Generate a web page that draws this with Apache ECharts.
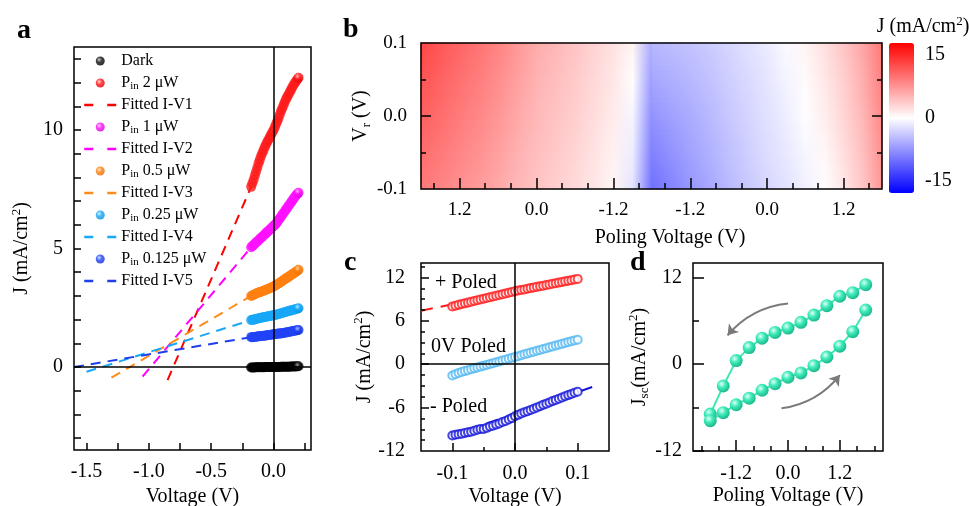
<!DOCTYPE html>
<html>
<head>
<meta charset="utf-8">
<script src="https://cdn.jsdelivr.net/npm/echarts@6.0.0/dist/echarts.min.js"></script>
<style>
  html, body { margin: 0; padding: 0; background: #fff; }
  #chart { width: 969px; height: 506px; }
</style>
</head>
<body>
<div id="chart"></div>
<script>
// ---------- panel a: J-V under illumination ----------
const voltageA = [-0.18, -0.17, -0.16, -0.15, -0.14, -0.13, -0.12, -0.11, -0.1, -0.09,
  -0.08, -0.07, -0.06, -0.05, -0.04, -0.03, -0.02, -0.01, 0,
  0.01, 0.02, 0.03, 0.04, 0.05, 0.06, 0.07, 0.08, 0.09, 0.1,
  0.11, 0.12, 0.13, 0.14, 0.15, 0.16, 0.17, 0.18, 0.19, 0.2];
const darkJ = [-0.02, -0.02, -0.02, -0.02, -0.01, -0.01, -0.01, -0.01, -0.01, -0.01,
  -0.01, -0.01, 0, 0, 0, 0, 0, 0, 0,
  0, 0, 0, 0, 0, 0.01, 0.01, 0.01, 0.01, 0.01,
  0.01, 0.01, 0.01, 0.02, 0.02, 0.02, 0.02, 0.02, 0.03, 0.03];
const pin2J = [7.6, 7.75, 7.9, 8.08, 8.25, 8.42, 8.6, 8.75, 8.9, 9.03,
  9.15, 9.28, 9.4, 9.5, 9.6, 9.7, 9.8, 9.9, 10.0,
  10.12, 10.25, 10.37, 10.5, 10.65, 10.8, 10.92, 11.05, 11.18, 11.3,
  11.4, 11.5, 11.6, 11.7, 11.8, 11.9, 11.98, 12.05, 12.13, 12.2];
const pin1J = [5.05, 5.1, 5.15, 5.2, 5.25, 5.3, 5.35, 5.4, 5.45, 5.5,
  5.55, 5.6, 5.65, 5.7, 5.75, 5.8, 5.85, 5.9, 5.95,
  6.0, 6.05, 6.12, 6.2, 6.27, 6.35, 6.42, 6.5, 6.57, 6.65,
  6.72, 6.8, 6.87, 6.95, 7.02, 7.1, 7.17, 7.25, 7.3, 7.35];
const pin05J = [3.0, 3.02, 3.05, 3.07, 3.1, 3.12, 3.14, 3.16, 3.18, 3.2,
  3.22, 3.24, 3.26, 3.28, 3.3, 3.32, 3.35, 3.37, 3.4,
  3.43, 3.46, 3.49, 3.52, 3.56, 3.6, 3.63, 3.67, 3.7, 3.74,
  3.77, 3.81, 3.84, 3.88, 3.91, 3.95, 3.98, 4.02, 4.06, 4.1];
const pin025J = [1.98, 1.99, 2.0, 2.01, 2.03, 2.04, 2.06, 2.07, 2.08, 2.09,
  2.1, 2.11, 2.12, 2.13, 2.14, 2.15, 2.16, 2.17, 2.19,
  2.2, 2.21, 2.22, 2.24, 2.25, 2.27, 2.28, 2.3, 2.31, 2.33,
  2.34, 2.36, 2.37, 2.39, 2.4, 2.42, 2.43, 2.45, 2.46, 2.48];
const pin0125J = [1.26, 1.26, 1.27, 1.27, 1.28, 1.29, 1.3, 1.3, 1.31, 1.31,
  1.32, 1.32, 1.33, 1.34, 1.35, 1.35, 1.36, 1.37, 1.38,
  1.38, 1.39, 1.4, 1.41, 1.41, 1.42, 1.43, 1.44, 1.45, 1.46,
  1.47, 1.48, 1.49, 1.5, 1.51, 1.52, 1.53, 1.54, 1.55, 1.56];
const powers = ['2', '1', '0.5', '0.25', '0.125'];
// fitted I-V lines: start and end points
const fitStartV = [-0.85, -1.05, -1.3, -1.5, -1.6];
const fitStartJ = [-0.55, -0.4, -0.45, -0.2, 0.0];
const fitEndV = [-0.18, -0.18, -0.18, -0.18, -0.18];
const fitEndJ = [7.6, 5.05, 3.0, 1.98, 1.26];

// ---------- panel b: J map (rows = Vr, columns = poling voltage) ----------
const vrRows = [0.1, 0.05, 0, -0.05, -0.1];
const polingDown = [1.8, 1.5, 1.2, 0.9, 0.6, 0.3, 0, -0.3, -0.6, -0.9, -1.2, -1.5, -1.8];
const polingUp = [-1.8, -1.5, -1.2, -0.9, -0.6, -0.3, 0, 0.3, 0.6, 0.9, 1.2, 1.5, 1.8];
const mapDown = [
  [12.9, 11.8, 10.8, 9.8, 8.7, 7.3, 5.9, 5.0, 4.1, 3.1, 2.1, 0.8, -5.9],
  [12.0, 11.0, 10.0, 9.1, 8.0, 6.7, 5.4, 4.6, 3.7, 2.7, 1.7, 0.1, -7.0],
  [11.2, 10.2, 9.3, 8.4, 7.4, 6.1, 5.0, 4.2, 3.4, 2.4, 1.4, -0.7, -8.0],
  [10.3, 9.4, 8.5, 7.7, 6.7, 5.5, 4.6, 3.8, 3.0, 2.0, 1.0, -1.3, -9.0],
  [9.4, 8.6, 7.8, 7.0, 6.1, 5.0, 4.2, 3.4, 2.6, 1.7, 0.7, -1.9, -10.0]
];
const mapUp = [
  [-5.0, -4.6, -4.2, -3.6, -2.9, -2.1, -1.4, -0.3, 0.8, 2.2, 4.0, 6.3, 9.4],
  [-6.2, -5.6, -5.0, -4.3, -3.4, -2.6, -1.8, -0.8, 0.3, 1.7, 3.4, 5.7, 8.8],
  [-7.5, -6.6, -5.8, -4.9, -3.9, -3.0, -2.1, -1.2, -0.1, 1.2, 2.9, 5.1, 8.3],
  [-8.7, -7.6, -6.5, -5.5, -4.4, -3.4, -2.4, -1.6, -0.6, 0.6, 2.3, 4.5, 7.8],
  [-10.0, -8.6, -7.3, -6.1, -4.9, -3.8, -2.8, -2.0, -1.0, 0.1, 1.7, 4.0, 7.3]
];
const colorLimit = 17.8;

// ---------- panel c: J-V after poling ----------
const voltageC = [-0.1, -0.095, -0.09, -0.085, -0.08, -0.075, -0.07, -0.065, -0.06, -0.055, -0.05,
  -0.045, -0.04, -0.035, -0.03, -0.025, -0.02, -0.015, -0.01, -0.005, 0,
  0.005, 0.01, 0.015, 0.02, 0.025, 0.03, 0.035, 0.04, 0.045, 0.05,
  0.055, 0.06, 0.065, 0.07, 0.075, 0.08, 0.085, 0.09, 0.095, 0.1];
const posPoledJ = [8.00, 8.10, 8.21, 8.32, 8.42, 8.52, 8.63, 8.74, 8.84, 8.95, 9.05,
  9.15, 9.26, 9.36, 9.47, 9.58, 9.68, 9.78, 9.89, 10.00, 10.10,
  10.19, 10.27, 10.35, 10.44, 10.53, 10.61, 10.70, 10.78, 10.87, 10.95,
  11.04, 11.12, 11.21, 11.29, 11.38, 11.46, 11.55, 11.63, 11.72, 11.80];
const zeroPoledJ = [-1.55, -1.38, -1.22, -1.08, -0.95, -0.82, -0.70, -0.57, -0.45, -0.33, -0.21,
  -0.09, 0.03, 0.15, 0.27, 0.39, 0.51, 0.63, 0.75, 0.88, 1.00,
  1.12, 1.24, 1.37, 1.49, 1.61, 1.74, 1.86, 1.98, 2.10, 2.22,
  2.34, 2.46, 2.58, 2.70, 2.82, 2.94, 3.06, 3.17, 3.28, 3.38];
const negPoledJ = [-9.85, -9.75, -9.68, -9.60, -9.50, -9.42, -9.33, -9.20, -9.05, -8.95, -8.95,
  -8.80, -8.62, -8.50, -8.35, -8.20, -8.00, -7.85, -7.65, -7.45, -7.20,
  -7.00, -6.82, -6.65, -6.50, -6.32, -6.15, -5.97, -5.80, -5.62, -5.45,
  -5.28, -5.10, -4.93, -4.77, -4.60, -4.43, -4.27, -4.10, -3.95, -3.80];
const fitPosV = [-0.15, 0.1];
const fitPosJ = [7.4, 11.8];
const fitNegV = [-0.1, 0.135];
const fitNegJ = [-9.85, -2.8];

// ---------- panel d: Jsc vs poling voltage loop ----------
const polingLoop = [1.8, 1.5, 1.2, 0.9, 0.6, 0.3, 0, -0.3, -0.6, -0.9, -1.2, -1.5, -1.8,
  -1.8, -1.5, -1.2, -0.9, -0.6, -0.3, 0, 0.3, 0.6, 0.9, 1.2, 1.5, 1.8];
const jscLoop = [11.0, 9.9, 9.4, 8.1, 6.8, 5.8, 5.0, 4.4, 3.6, 2.3, 0.5, -3.0, -6.9,
  -7.8, -6.7, -5.6, -4.7, -3.6, -2.7, -1.8, -1.2, -0.2, 1.0, 2.5, 4.5, 7.5];
const arrowDown = [[0.0, 8.4], [-1.4, 4.0]];
const arrowUp = [[-0.15, -6.1], [1.2, -1.5]];

// ---------- helpers ----------
const FONT = 'Liberation Serif';
const RICH = {
  t: { fontFamily: FONT, fontSize: 20, color: '#000', lineHeight: 24 },
  sup: { fontFamily: FONT, fontSize: 13, color: '#000', lineHeight: 12, verticalAlign: 'top' },
  sub: { fontFamily: FONT, fontSize: 13, color: '#000', lineHeight: 10, verticalAlign: 'bottom' }
};
const fmt1 = v => v.toFixed(1);
const fmt0 = v => String(v);

function axis(o) {
  return {
    type: 'value', gridIndex: o.grid, position: o.pos, min: o.min, max: o.max,
    inverse: !!o.inverse, show: o.show !== false, z: 11,
    axisLine: { show: false, onZero: false },
    splitLine: { show: false },
    axisTick: {
      show: !!o.ticks, inside: true, length: o.len || 6, customValues: o.ticks || [],
      lineStyle: { color: '#000', width: 1.5 }
    },
    axisLabel: o.labels ? {
      show: true, customValues: o.labels, formatter: o.fmt, fontFamily: FONT,
      fontSize: o.size || 20, color: '#000', margin: o.margin || 12
    } : { show: false },
    name: o.name || '', nameLocation: 'middle', nameGap: o.gap || 0,
    nameTextStyle: { fontFamily: FONT, fontSize: 20, color: '#000', rich: RICH }
  };
}

function sphere(light, base, dark) {
  return new echarts.graphic.RadialGradient(0.38, 0.35, 0.65, [
    { offset: 0, color: light }, { offset: 0.45, color: base }, { offset: 1, color: dark }
  ]);
}

// blue - white - red scale, same as the visualMap bar
function rgbOf(v) {
  const t = Math.max(-1, Math.min(1, v / colorLimit));
  const k = 255 * (1 - Math.abs(t));
  return t >= 0 ? [255, k, k] : [k, k, 255];
}
function mix(c0, c1, f) {
  return 'rgb(' + c0.map((c, i) => Math.round(c + (c1[i] - c) * f)).join(',') + ')';
}

function heatCells(poling, rows) {
  const cells = [];
  for (let r = 0; r < rows.length - 1; r++) {
    for (let i = 0; i < poling.length - 1; i++) {
      cells.push([poling[i], poling[i + 1], vrRows[r], vrRows[r + 1],
        rows[r][i], rows[r][i + 1], rows[r + 1][i], rows[r + 1][i + 1]]);
    }
  }
  return cells;
}

// each cell is shaded in thin horizontal strips so the map looks smooth
function renderCell(params, api) {
  const a = api.coord([api.value(0), api.value(2)]);
  const b = api.coord([api.value(1), api.value(3)]);
  const tl = rgbOf(api.value(4)), tr = rgbOf(api.value(5));
  const bl = rgbOf(api.value(6)), br = rgbOf(api.value(7));
  const x = Math.min(a[0], b[0]);
  const w = Math.abs(b[0] - a[0]);
  const strips = 8;
  const h = (b[1] - a[1]) / strips;
  const children = [];
  for (let k = 0; k < strips; k++) {
    const f = (k + 0.5) / strips;
    children.push({
      type: 'rect',
      shape: { x: x - 0.4, y: a[1] + h * k - 0.4, width: w + 0.8, height: h + 0.8 },
      style: {
        fill: new echarts.graphic.LinearGradient(a[0], 0, b[0], 0, [
          { offset: 0, color: mix(tl, bl, f) },
          { offset: 1, color: mix(tr, br, f) }
        ], true)
      }
    });
  }
  return { type: 'group', children };
}

const zip = (xs, ys) => xs.map((x, i) => [x, ys[i]]);
// dense measured points; the last one gets the shiny ball look
function bandData(xs, ys, shine) {
  return xs.map((x, i) => i === xs.length - 1
    ? { value: [x, ys[i]], itemStyle: { color: shine } }
    : [x, ys[i]]);
}

// ---------- panel a series ----------
const pinSeries = [pin2J, pin1J, pin05J, pin025J, pin0125J];
const pinNames = powers.map(p => 'P ' + p);
const pinColors = [
  ['#ffd0d0', '#ff1a1a', '#e00000'],
  ['#ffd0ff', '#ff10ff', '#d800d8'],
  ['#ffe0c0', '#ff8010', '#e86e00'],
  ['#d0f0ff', '#18a8f8', '#0090e0'],
  ['#d0d8ff', '#2244f5', '#1430d8']
];
const fitColors = ['#ff0000', '#ff00ff', '#ff8c1a', '#1aa8f5', '#1f3fef'];
const darkShine = sphere('#bbbbbb', '#111111', '#000000');
const legendData = [{ name: 'Dark', itemStyle: { color: darkShine } }];
const seriesA = [{
  name: 'Dark', type: 'scatter', xAxisIndex: 0, yAxisIndex: 0, z: 3,
  symbolSize: 10, data: bandData(voltageA, darkJ, darkShine),
  itemStyle: { color: '#000' },
  markLine: {
    silent: true, symbol: ['none', 'none'], label: { show: false },
    lineStyle: { color: '#000', type: 'solid', width: 1.5 },
    data: [{ xAxis: 0 }, { yAxis: 0 }]
  }
}];
pinSeries.forEach((ys, i) => {
  const fitName = 'Fitted I-V' + (i + 1);
  const shine = sphere(pinColors[i][0], pinColors[i][1], pinColors[i][2]);
  legendData.push(
    { name: pinNames[i], itemStyle: { color: shine } },
    { name: fitName, itemStyle: { opacity: 0, borderWidth: 0 } }
  );
  seriesA.push({
    name: pinNames[i], type: 'scatter', xAxisIndex: 0, yAxisIndex: 0, z: 3,
    symbolSize: 10, data: bandData(voltageA, ys, shine),
    itemStyle: { color: pinColors[i][1] }
  });
  seriesA.push({
    name: fitName, type: 'line', xAxisIndex: 0, yAxisIndex: 0, z: 2,
    symbol: 'none', showSymbol: false,
    data: [[fitStartV[i], fitStartJ[i]], [fitEndV[i], fitEndJ[i]]],
    lineStyle: { color: fitColors[i], width: 2, type: [10, 7] },
    itemStyle: { color: fitColors[i] }
  });
});

// ---------- option ----------
const chart = echarts.init(document.getElementById('chart'));
const option = {
  animation: false,
  textStyle: { fontFamily: FONT },
  grid: [
    { left: 74, top: 47, width: 237, height: 403, show: true, borderColor: '#000', borderWidth: 1.5, outerBoundsMode: 'none' },
    { left: 421, top: 43, width: 231, height: 146, outerBoundsMode: 'none' },
    { left: 652, top: 43, width: 230, height: 146, outerBoundsMode: 'none' },
    { left: 889, top: 43, width: 25, height: 150, outerBoundsMode: 'none' },
    { left: 421, top: 263, width: 188, height: 188, show: true, borderColor: '#000', borderWidth: 1.5, outerBoundsMode: 'none' },
    { left: 693, top: 263, width: 190, height: 188, show: true, borderColor: '#000', borderWidth: 1.5, outerBoundsMode: 'none' },
    { left: 421, top: 43, width: 461, height: 146, show: true, borderColor: '#000', borderWidth: 1.5, z: 10, outerBoundsMode: 'none' }
  ],
  xAxis: [
    axis({ grid: 0, pos: 'bottom', min: -1.6, max: 0.3, ticks: [-1.5, -1.25, -1, -0.75, -0.5, -0.25, 0, 0.25], len: 7,
      labels: [-1.5, -1, -0.5, 0], fmt: fmt1, margin: 12, name: '{t|Voltage (V)}', gap: 32 }),
    axis({ grid: 1, pos: 'bottom', min: -1.8, max: 1.8, inverse: true, ticks: [-1.6, -0.8, -0.4, 0.4, 0.8, 1.6], len: 6,
      labels: [-1.2, 0, 1.2], fmt: fmt1, size: 19, margin: 12 }),
    axis({ grid: 2, pos: 'bottom', min: -1.8, max: 1.8, ticks: [-1.6, -0.8, -0.4, 0.4, 0.8, 1.6], len: 6,
      labels: [-1.2, 0, 1.2], fmt: fmt1, size: 19, margin: 12 }),
    axis({ grid: 3, pos: 'bottom', min: 0, max: 1, show: false }),
    axis({ grid: 4, pos: 'bottom', min: -0.15, max: 0.15, ticks: [-0.05, 0.05], len: 4,
      labels: [-0.1, 0, 0.1], fmt: fmt1, margin: 13, name: '{t|Voltage (V)}', gap: 34 }),
    axis({ grid: 5, pos: 'bottom', min: -2.2, max: 2.2, ticks: [-2, -1.6, -0.8, -0.4, 0.4, 0.8, 1.6, 2], len: 5,
      labels: [-1.2, 0, 1.2], fmt: fmt1, margin: 13, name: '{t|Poling Voltage (V)}', gap: 33 }),
    axis({ grid: 1, pos: 'bottom', min: -1.8, max: 1.8, inverse: true, ticks: [-1.2, 0, 1.2], len: 11 }),
    axis({ grid: 2, pos: 'bottom', min: -1.8, max: 1.8, ticks: [-1.2, 0, 1.2], len: 11 }),
    axis({ grid: 4, pos: 'bottom', min: -0.15, max: 0.15, ticks: [-0.1, 0, 0.1], len: 8 }),
    axis({ grid: 5, pos: 'bottom', min: -2.2, max: 2.2, ticks: [-1.2, 0, 1.2], len: 11 }),
    axis({ grid: 6, pos: 'bottom', min: 0, max: 1, show: false })
  ],
  yAxis: [
    axis({ grid: 0, pos: 'left', min: -3.5, max: 13.5, ticks: [-3, -2, -1, 0, 1, 2, 3, 4, 5, 6, 7, 8, 9, 10, 11, 12, 13], len: 7,
      labels: [0, 5, 10], fmt: fmt0, margin: 11, name: '{t|J (mA/cm}{sup|2}{t|)}', gap: 40 }),
    axis({ grid: 1, pos: 'left', min: -0.1, max: 0.1, ticks: [-0.05, 0.05], len: 5,
      labels: [-0.1, 0, 0.1], fmt: fmt1, size: 19, margin: 14, name: '{t|V}{sub|r}{t| (V)}', gap: 48 }),
    axis({ grid: 2, pos: 'right', min: -0.1, max: 0.1, ticks: [-0.05, 0.05], len: 5 }),
    axis({ grid: 3, pos: 'right', min: -colorLimit, max: colorLimit, labels: [-15, 0, 15], fmt: fmt0, margin: 11 }),
    axis({ grid: 4, pos: 'left', min: -12, max: 14, ticks: [-10.5, -9, -7.5, -4.5, -3, -1.5, 1.5, 3, 4.5, 7.5, 9, 10.5, 13.5], len: 4,
      labels: [-12, -6, 0, 6, 12], fmt: fmt0, margin: 16, name: '{t|J (mA/cm}{sup|2}{t|)}', gap: 44 }),
    axis({ grid: 5, pos: 'left', min: -12, max: 14, ticks: [-6, 6], len: 6,
      labels: [-12, 0, 12], fmt: fmt0, margin: 11, name: '{t|J}{sub|sc}{t|(mA/cm}{sup|2}{t|)}', gap: 41 }),
    axis({ grid: 1, pos: 'left', min: -0.1, max: 0.1, ticks: [0], len: 10 }),
    axis({ grid: 2, pos: 'right', min: -0.1, max: 0.1, ticks: [0], len: 10 }),
    axis({ grid: 4, pos: 'left', min: -12, max: 14, ticks: [-6, 0, 6, 12], len: 8 }),
    axis({ grid: 5, pos: 'left', min: -12, max: 14, ticks: [-12, 0, 12], len: 11 }),
    axis({ grid: 6, pos: 'left', min: 0, max: 1, show: false })
  ],
  legend: {
    data: legendData, orient: 'vertical', left: 83, top: 52, padding: 0,
    itemWidth: 32, itemHeight: 9, itemGap: 4, selectedMode: false,
    lineStyle: { type: [9, 14], width: 2.5 },
    formatter(name) {
      const i = pinNames.indexOf(name);
      return i >= 0 ? `{t|P}{sub|in}{t| ${powers[i]} μW}` : `{t|${name}}`;
    },
    textStyle: {
      fontFamily: FONT, fontSize: 16, color: '#000', lineHeight: 18,
      rich: {
        t: { fontFamily: FONT, fontSize: 16, color: '#000', lineHeight: 18 },
        sub: { fontFamily: FONT, fontSize: 11, color: '#000', lineHeight: 8, verticalAlign: 'bottom' }
      }
    }
  },
  visualMap: {
    type: 'continuous', min: -colorLimit, max: colorLimit, seriesIndex: [11, 12], dimension: 4,
    left: 889, top: 43, padding: 0, itemWidth: 25, itemHeight: 150,
    calculable: false, hoverLink: false, text: null, showLabel: false,
    inRange: { color: ['#0000ff', '#ffffff', '#ff0000'] }
  },
  graphic: [
    { type: 'text', x: 17, y: 31, style: { text: 'a', font: 'bold 28px "Liberation Serif"', fill: '#000', verticalAlign: 'middle' } },
    { type: 'text', x: 343, y: 30, style: { text: 'b', font: 'bold 28px "Liberation Serif"', fill: '#000', verticalAlign: 'middle' } },
    { type: 'text', x: 344, y: 263, style: { text: 'c', font: 'bold 28px "Liberation Serif"', fill: '#000', verticalAlign: 'middle' } },
    { type: 'text', x: 630, y: 263, style: { text: 'd', font: 'bold 28px "Liberation Serif"', fill: '#000', verticalAlign: 'middle' } },
    { type: 'text', x: 923, y: 27, style: { text: '{t|J (mA/cm}{sup|2}{t|)}', rich: RICH, align: 'center', verticalAlign: 'middle' } },
    { type: 'text', x: 670, y: 238, style: { text: 'Poling Voltage (V)', font: '20px "Liberation Serif"', fill: '#000', align: 'center', verticalAlign: 'middle' } },
    { type: 'text', x: 435, y: 283, z: 20, style: { text: '+ Poled', font: '20px "Liberation Serif"', fill: '#000', verticalAlign: 'middle' } },
    { type: 'text', x: 431, y: 347, z: 20, style: { text: '0V Poled', font: '20px "Liberation Serif"', fill: '#000', verticalAlign: 'middle' } },
    { type: 'text', x: 430, y: 407, z: 20, style: { text: '- Poled', font: '20px "Liberation Serif"', fill: '#000', verticalAlign: 'middle' } }
  ],
  series: seriesA.concat([
    {
      type: 'custom', coordinateSystem: 'cartesian2d', xAxisIndex: 1, yAxisIndex: 1, silent: true,
      encode: { x: [0, 1], y: [2, 3] }, renderItem: renderCell, data: heatCells(polingDown, mapDown)
    },
    {
      type: 'custom', coordinateSystem: 'cartesian2d', xAxisIndex: 2, yAxisIndex: 2, silent: true,
      encode: { x: [0, 1], y: [2, 3] }, renderItem: renderCell, data: heatCells(polingUp, mapUp)
    },
    {
      type: 'line', xAxisIndex: 4, yAxisIndex: 4, symbol: 'none', z: 2,
      data: zip(fitPosV, fitPosJ), lineStyle: { color: '#ff1a1a', width: 2, type: [12, 8] }
    },
    {
      type: 'line', xAxisIndex: 4, yAxisIndex: 4, symbol: 'none', z: 2,
      data: zip(fitNegV, fitNegJ), lineStyle: { color: '#1414d8', width: 2, type: [12, 8], dashOffset: 4 }
    },
    {
      type: 'scatter', xAxisIndex: 4, yAxisIndex: 4, z: 3, symbol: 'emptyCircle', symbolSize: 8,
      data: zip(voltageC, posPoledJ), itemStyle: { color: '#ff1a1a', borderWidth: 1.5 },
      markLine: {
        silent: true, symbol: ['none', 'none'], label: { show: false },
        lineStyle: { color: '#000', type: 'solid', width: 1.5 },
        data: [{ xAxis: 0 }, { yAxis: 0 }]
      }
    },
    {
      type: 'scatter', xAxisIndex: 4, yAxisIndex: 4, z: 3, symbol: 'emptyCircle', symbolSize: 8,
      data: zip(voltageC, zeroPoledJ), itemStyle: { color: '#55b8f0', borderWidth: 1.5 }
    },
    {
      type: 'scatter', xAxisIndex: 4, yAxisIndex: 4, z: 3, symbol: 'emptyCircle', symbolSize: 8,
      data: zip(voltageC, negPoledJ), itemStyle: { color: '#1414d8', borderWidth: 1.5 }
    },
    {
      type: 'line', xAxisIndex: 5, yAxisIndex: 5, z: 3, symbol: 'circle', symbolSize: 13,
      data: zip(polingLoop, jscLoop),
      lineStyle: { color: '#3de8b5', width: 2 },
      itemStyle: { color: sphere('#e6fff7', '#40ecbb', '#1cb98c') }
    },
    {
      type: 'lines', coordinateSystem: 'cartesian2d', xAxisIndex: 5, yAxisIndex: 5, silent: true,
      symbol: ['none', 'arrow'], symbolSize: 10,
      lineStyle: { color: '#7a7a7a', width: 2, curveness: -0.2, opacity: 1 },
      data: [{ coords: arrowDown }, { coords: arrowUp }]
    }
  ])
};
chart.setOption(option);
</script>
</body>
</html>
